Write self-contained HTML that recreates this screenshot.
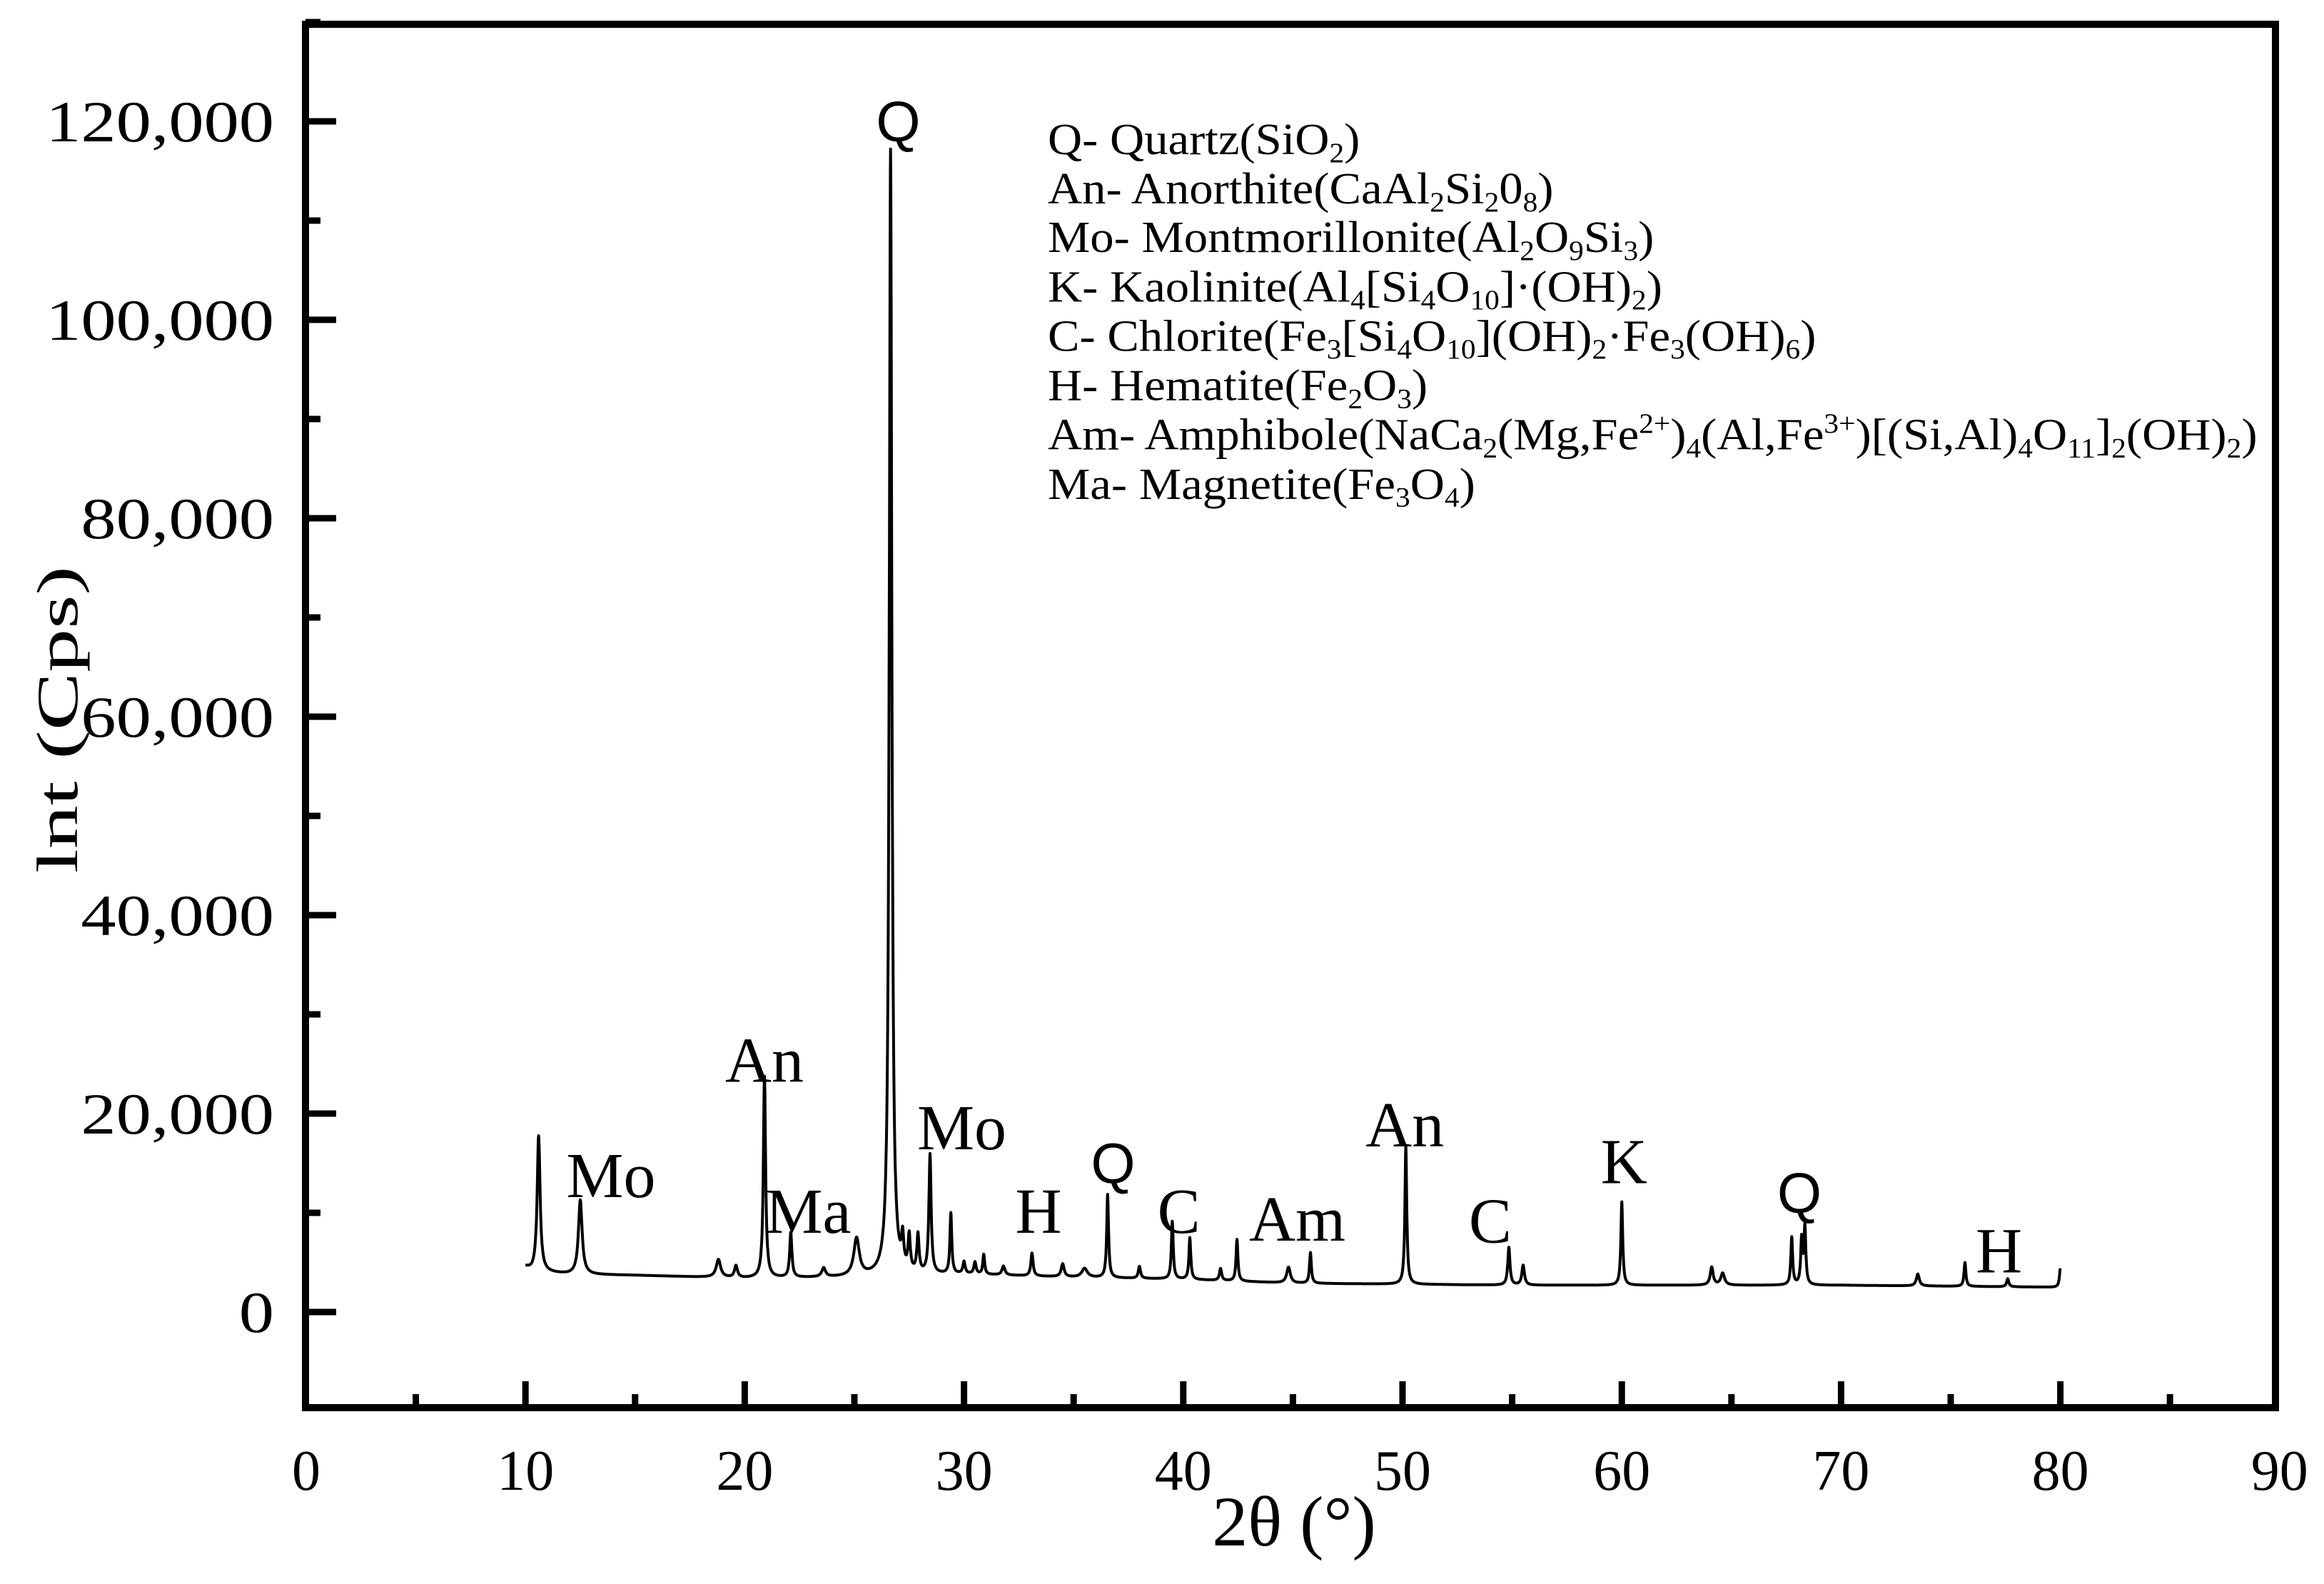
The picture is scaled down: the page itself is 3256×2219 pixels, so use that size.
<!DOCTYPE html>
<html><head><meta charset="utf-8">
<style>
html,body{margin:0;padding:0;background:#fff;}
svg{display:block;}
text{font-family:"Liberation Serif",serif;fill:#000;}
</style></head>
<body>
<svg id="chart" width="3256" height="2219" viewBox="0 0 3256 2219" xmlns="http://www.w3.org/2000/svg">
<rect x="0" y="0" width="3256" height="2219" fill="#fff"/>
<g id="ticks"></g>
<path id="spectrum" fill="none" stroke="#000" stroke-width="4" stroke-linejoin="round"/>
<rect x="428" y="34" width="2760" height="1938" fill="none" stroke="#000" stroke-width="10"/>
<g id="labels"></g>
<text x="1813" y="2165" font-size="100" text-anchor="middle">2θ (°)</text>
<text transform="translate(108,1008) rotate(-90) scale(1.22,0.82)" font-size="100" text-anchor="middle">lnt (Cps)</text>
<g font-size="58" transform="translate(1468,0) scale(1.15,1.08) translate(-1468,0)">
<text x="1468" y="200">Q- Quartz(SiO<tspan font-size="36" dy="10">2</tspan><tspan dy="-10">)</tspan></text>
<text x="1468" y="264">An- Anorthite(CaAl<tspan font-size="36" dy="10">2</tspan><tspan dy="-10">Si</tspan><tspan font-size="36" dy="10">2</tspan><tspan dy="-10">0</tspan><tspan font-size="36" dy="10">8</tspan><tspan dy="-10">)</tspan></text>
<text x="1468" y="327">Mo- Montmorillonite(Al<tspan font-size="36" dy="10">2</tspan><tspan dy="-10">O</tspan><tspan font-size="36" dy="10">9</tspan><tspan dy="-10">Si</tspan><tspan font-size="36" dy="10">3</tspan><tspan dy="-10">)</tspan></text>
<text x="1468" y="391">K- Kaolinite(Al<tspan font-size="36" dy="10">4</tspan><tspan dy="-10">[Si</tspan><tspan font-size="36" dy="10">4</tspan><tspan dy="-10">O</tspan><tspan font-size="36" dy="10">10</tspan><tspan dy="-10">]·(OH)</tspan><tspan font-size="36" dy="10">2</tspan><tspan dy="-10">)</tspan></text>
<text x="1468" y="455">C- Chlorite(Fe<tspan font-size="36" dy="10">3</tspan><tspan dy="-10">[Si</tspan><tspan font-size="36" dy="10">4</tspan><tspan dy="-10">O</tspan><tspan font-size="36" dy="10">10</tspan><tspan dy="-10">](OH)</tspan><tspan font-size="36" dy="10">2</tspan><tspan dy="-10">·Fe</tspan><tspan font-size="36" dy="10">3</tspan><tspan dy="-10">(OH)</tspan><tspan font-size="36" dy="10">6</tspan><tspan dy="-10">)</tspan></text>
<text x="1468" y="519">H- Hematite(Fe<tspan font-size="36" dy="10">2</tspan><tspan dy="-10">O</tspan><tspan font-size="36" dy="10">3</tspan><tspan dy="-10">)</tspan></text>
<text x="1468" y="583">Am- Amphibole(NaCa<tspan font-size="36" dy="10">2</tspan><tspan dy="-10">(Mg,Fe</tspan><tspan font-size="36" dy="-22">2+</tspan><tspan dy="22">)</tspan><tspan font-size="36" dy="10">4</tspan><tspan dy="-10">(Al,Fe</tspan><tspan font-size="36" dy="-22">3+</tspan><tspan dy="22">)[(Si,Al)</tspan><tspan font-size="36" dy="10">4</tspan><tspan dy="-10">O</tspan><tspan font-size="36" dy="10">11</tspan><tspan dy="-10">]</tspan><tspan font-size="36" dy="10">2</tspan><tspan dy="-10">(OH)</tspan><tspan font-size="36" dy="10">2</tspan><tspan dy="-10">)</tspan></text>
<text x="1468" y="647">Ma- Magnetite(Fe<tspan font-size="36" dy="10">3</tspan><tspan dy="-10">O</tspan><tspan font-size="36" dy="10">4</tspan><tspan dy="-10">)</tspan></text>
</g>
</svg>
<script>
// data
const baseTheta = [10, 10.3, 12, 15, 20, 25, 30, 35, 40, 45, 50, 55, 60, 65, 70, 75, 79.8, 80];
const baseInt   = [4500, 4100, 3800, 3700, 3400, 3500, 3800, 3500, 3300, 2900, 2800, 2700, 2700, 2700, 2700, 2600, 2500, 2500];
const peakPos   = [10.6, 12.5, 18.8, 19.6, 20.9, 22.1, 23.6, 25.1, 26.65, 27.2, 27.5, 27.9, 28.45, 29.4, 30.0, 30.5, 30.9, 31.8, 33.1, 34.5, 35.5, 36.55, 38.0, 39.5, 40.3, 41.7, 42.45, 44.8, 45.8, 50.15, 54.85, 55.5, 60.0, 64.1, 64.6, 67.75, 68.2, 68.35, 73.5, 75.65, 77.6, 80.0];
const peakAmp   = [13700, 7500, 1800, 1200, 20300, 4500, 900, 3800, 113500, 3000, 3500, 3800, 12000, 6100, 1200, 1200, 2000, 900, 2300, 1300, 900, 8400, 1200, 5800, 4200, 1200, 4200, 1600, 3100, 13900, 3800, 2000, 8400, 1800, 1200, 4800, 4500, 5800, 1200, 2400, 800, 1900];
const peakWidth = [0.08, 0.1, 0.12, 0.08, 0.06, 0.06, 0.1, 0.15, 0.07, 0.06, 0.06, 0.06, 0.06, 0.05, 0.06, 0.06, 0.05, 0.08, 0.06, 0.08, 0.15, 0.05, 0.06, 0.05, 0.05, 0.06, 0.05, 0.1, 0.05, 0.05, 0.06, 0.07, 0.05, 0.08, 0.1, 0.05, 0.05, 0.05, 0.08, 0.05, 0.06, 0.05];
const xTicks = [0, 10, 20, 30, 40, 50, 60, 70, 80, 90];
const xTickLabels = ["0", "10", "20", "30", "40", "50", "60", "70", "80", "90"];
const yTicks = [0, 20000, 40000, 60000, 80000, 100000, 120000];
const yTickLabels = ["0", "20,000", "40,000", "60,000", "80,000", "100,000", "120,000"];
const phaseLabels = ["Q", "Mo", "An", "Ma", "Mo", "H", "Q", "C", "Am", "An", "C", "K", "Q", "H"];
const phaseTheta  = [27.0, 13.9, 20.9, 22.9, 29.9, 33.4, 36.8, 39.8, 45.2, 50.1, 54.0, 60.1, 68.1, 77.2];
const phaseInt    = [118000, 11600, 23200, 8000, 16400, 8000, 13000, 8000, 7200, 16700, 7000, 13000, 10000, 4000];
const phaseSans   = [1, 0, 0, 0, 0, 0, 1, 0, 0, 0, 0, 0, 1, 0];

const X0 = 429, XS = 30.72;
const Y0 = 1838, YS = 278 / 20000;
function xs(t) { return X0 + t * XS; }
function ys(v) { return Y0 - v * YS; }
const NS = "http://www.w3.org/2000/svg";

function base(t) {
  for (let i = 0; i < baseTheta.length - 1; i++) {
    if (t <= baseTheta[i + 1]) {
      const f = (t - baseTheta[i]) / (baseTheta[i + 1] - baseTheta[i]);
      return baseInt[i] + f * (baseInt[i + 1] - baseInt[i]);
    }
  }
  return baseInt[baseInt.length - 1];
}
let d = "";
for (let k = 0; k <= 7000; k++) {
  const t = 10 + k * 0.01;
  let v = base(t);
  for (let j = 0; j < peakPos.length; j++) {
    const u = (t - peakPos[j]) / peakWidth[j];
    v += peakAmp[j] / (1 + u * u);
  }
  d += (k ? "L" : "M") + xs(t).toFixed(1) + " " + ys(v).toFixed(1);
}
document.getElementById("spectrum").setAttribute("d", d);

const tg = document.getElementById("ticks");
const lg = document.getElementById("labels");
function line(x1, y1, x2, y2, name) {
  const l = document.createElementNS(NS, "line");
  l.setAttribute("x1", x1); l.setAttribute("y1", y1);
  l.setAttribute("x2", x2); l.setAttribute("y2", y2);
  l.setAttribute("stroke", "#000"); l.setAttribute("stroke-width", 9);
  
  
  tg.appendChild(l);
}
function txt(x, y, s, size, anchor, name, sans, sx) {
  const e = document.createElementNS(NS, "text");
  e.setAttribute("x", 0); e.setAttribute("y", 0);
  e.setAttribute("transform", "translate(" + x + "," + y + ") scale(" + (sx || 1) + ",1)");
  e.setAttribute("font-size", size); e.setAttribute("text-anchor", anchor);
  if (sans) e.setAttribute("style", "font-family:'Liberation Sans',sans-serif");
  e.textContent = s;
  
  
  lg.appendChild(e);
}
for (let i = 0; i < xTicks.length; i++) {
  const x = xs(xTicks[i]);
  if (xTicks[i] > 0 && xTicks[i] < 90) line(x, 1972, x, 1935, "x-major-tick");
  if (xTicks[i] < 90) line(xs(xTicks[i] + 5), 1972, xs(xTicks[i] + 5), 1953, "x-minor-tick");
  txt(x, 2087, xTickLabels[i], 80, "middle", "x-tick-label");
}
for (let i = 0; i < yTicks.length; i++) {
  const y = ys(yTicks[i]);
  line(428, y, 471, y, "y-major-tick");
  line(428, ys(yTicks[i] + 10000), 449, ys(yTicks[i] + 10000), "y-minor-tick");
  txt(384, y + 28, yTickLabels[i], 82, "end", "y-tick-label", 0, 1.2);
}
for (let i = 0; i < phaseLabels.length; i++) {
  txt(xs(phaseTheta[i]), ys(phaseInt[i]), phaseLabels[i], phaseSans[i] ? 80 : 90, "middle", "peak-label-" + phaseLabels[i].toLowerCase(), phaseSans[i]);
}
</script>
</body></html>
